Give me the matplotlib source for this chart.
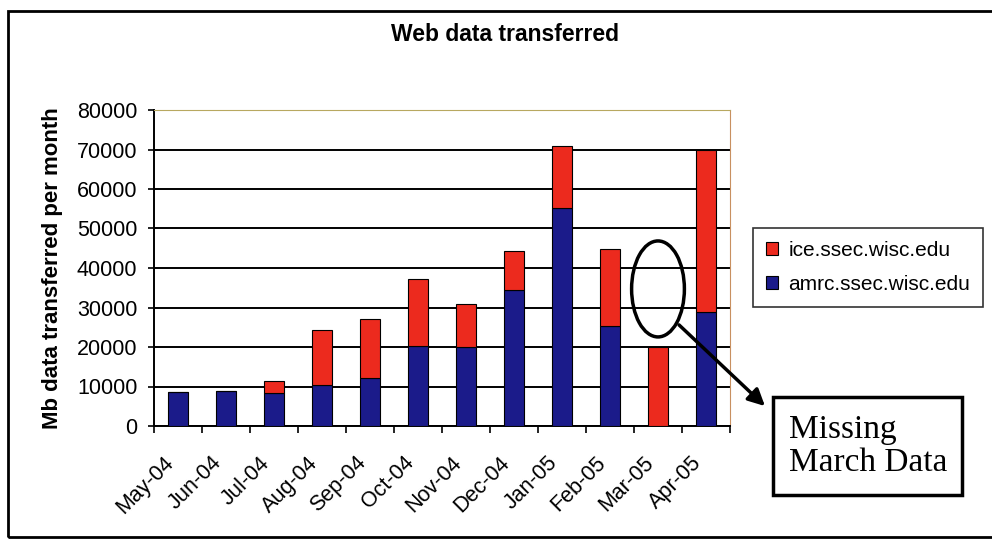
import matplotlib
matplotlib.use('Agg')
from matplotlib import pyplot as plt
from matplotlib.patches import Ellipse, Rectangle
import numpy as np

months = ['May-04', 'Jun-04', 'Jul-04', 'Aug-04', 'Sep-04', 'Oct-04',
          'Nov-04', 'Dec-04', 'Jan-05', 'Feb-05', 'Mar-05', 'Apr-05']
amrc = [8600, 8900, 8400, 10400, 12200, 20300, 20000, 34500, 55200, 25400, 0, 28900]
ice = [0, 0, 3000, 13900, 14900, 16800, 10900, 9900, 15700, 19400, 20000, 40900]

plt.rcParams['font.family'] = ['Liberation Sans', 'DejaVu Sans']

W, H = 992, 543
fig = plt.figure(figsize=(W / 100, H / 100), dpi=100)
ax = fig.add_axes([154 / W, 1 - 426 / H, (730 - 154) / W, (426 - 110) / H])

x = np.arange(len(months))
blue = '#1b1b8a'
red = '#ec2a1e'
ax.bar(x, amrc, 0.4, color=blue, edgecolor='black', linewidth=0.8,
       label='amrc.ssec.wisc.edu', zorder=3)
ax.bar(x, ice, 0.4, bottom=amrc, color=red, edgecolor='black', linewidth=0.8,
       label='ice.ssec.wisc.edu', zorder=3)

ax.set_xlim(-0.5, len(months) - 0.5)
ax.set_ylim(0, 80000)
ax.set_yticks(range(0, 80001, 10000))
ax.yaxis.grid(True, color='black', linewidth=1.4, zorder=1)
ax.tick_params(axis='y', labelsize=15.5, length=4, width=1.2, pad=8)

# category boundary ticks, labels at centres
ax.set_xticks(np.arange(-0.5, len(months)), minor=False)
ax.set_xticklabels([])
ax.set_xticks(x, minor=True)
ax.set_xticklabels(months, minor=True, rotation=45, ha='right',
                   rotation_mode='anchor', fontsize=15.5)
ax.tick_params(axis='x', which='major', length=5, width=1.2, direction='out')
ax.tick_params(axis='x', which='minor', length=0, pad=19)
for lbl in ax.get_xticklabels(minor=True):
    lbl.set_transform(lbl.get_transform() +
                      matplotlib.transforms.ScaledTranslation(-0.15, 0, fig.dpi_scale_trans))

for s in ['left', 'bottom']:
    ax.spines[s].set_linewidth(1.4)
ax.spines['top'].set_color('#b8a860')
ax.spines['top'].set_linewidth(0.8)
ax.spines['right'].set_color('#c89060')
ax.spines['right'].set_linewidth(0.8)

ax.set_ylabel('Mb data transferred per month', fontsize=16, fontweight='bold', labelpad=10)
fig.text(505 / W, 1 - 34 / H, 'Web data transferred', fontsize=16.5, fontweight='bold',
         ha='center', va='center')

h, l = ax.get_legend_handles_labels()
leg = fig.legend(h[::-1], l[::-1], loc='upper left', bbox_to_anchor=(753 / W, 1 - 228 / H),
                 borderaxespad=0, fontsize=15, frameon=True, fancybox=False,
                 edgecolor='black', handlelength=0.6, handleheight=0.6,
                 handletextpad=0.5, labelspacing=0.75, borderpad=0.6)
leg.get_frame().set_linewidth(1.2)

# missing March annotation
ax.add_patch(Ellipse((10, 34700), 1.1, 24300, fill=False, edgecolor='black',
                     linewidth=2.5, zorder=5, clip_on=False))
fig.add_artist(matplotlib.patches.FancyArrowPatch(
    (677 / W, 1 - 323 / H), (767 / W, 1 - 408 / H), transform=fig.transFigure,
    arrowstyle='-|>', mutation_scale=25, linewidth=2.5, color='black'))
fig.add_artist(Rectangle((773 / W, 1 - 495 / H), (962 - 773) / W, (495 - 397) / H,
                         transform=fig.transFigure, fill=False, edgecolor='black',
                         linewidth=2.5))
fig.text(789 / W, 1 - 446 / H, 'Missing\nMarch Data', family='Liberation Serif',
         fontsize=24, linespacing=1.1, ha='left', va='center')

# outer chart frame
fig.add_artist(Rectangle((8 / W, 1 - 537 / H), 1.2, (537 - 11) / H,
                         transform=fig.transFigure, fill=False, edgecolor='black',
                         linewidth=2))

fig.savefig('out.png', dpi=100)
